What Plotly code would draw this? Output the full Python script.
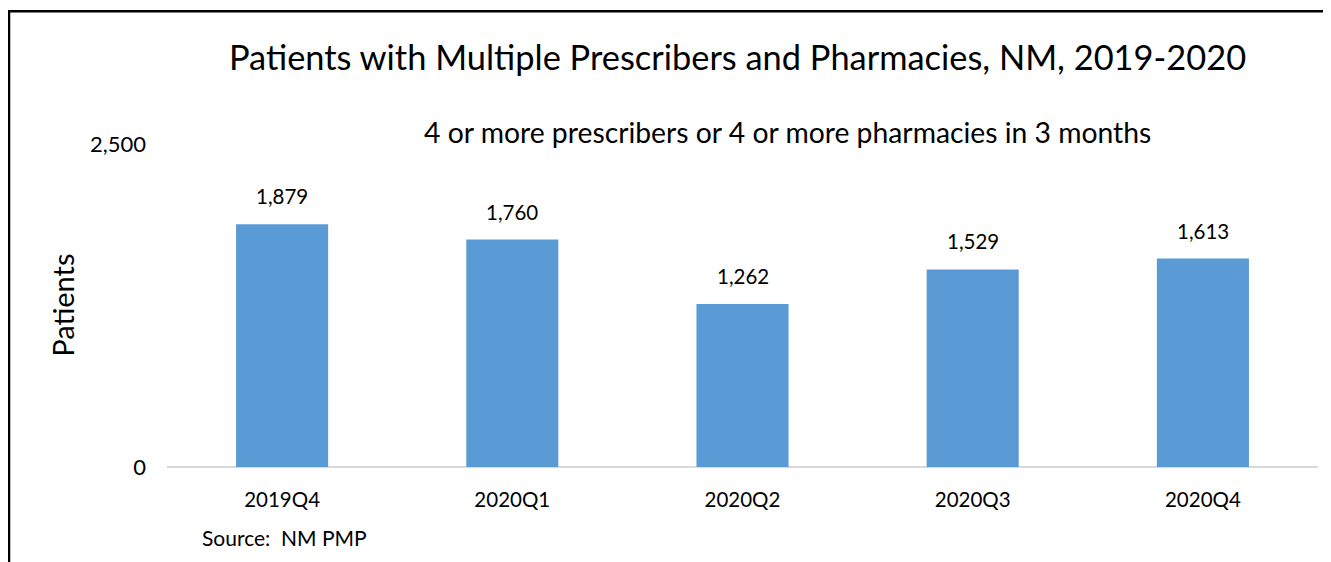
import plotly.graph_objects as go

quarters = ["2019Q4", "2020Q1", "2020Q2", "2020Q3", "2020Q4"]
patients = [1879, 1760, 1262, 1529, 1613]
y_ticks = [0, 2500]
y_tick_labels = ["0", "2,500"]

title_text = "Patients with Multiple Prescribers and Pharmacies, NM, 2019-2020"
subtitle_text = "4 or more prescribers or 4 or more pharmacies in 3 months"
source_text = "Source:  NM PMP"
y_title = "Patients"

FONT = "Lato"
W, H = 1331, 562
OFF = 8  # page body margin offset
# plot area in screen pixels
SX0, SX1, SY0, SY1 = 167, 1318, 144, 467.5
L = SX0 - OFF
R = W - (SX1 - OFF)
T = SY0 - OFF
B = H - (SY1 - OFF)
PW, PH = W - L - R, H - T - B


def px(x):
    return (x - OFF - L) / PW


def py(y):
    return (H - B - (y - OFF)) / PH


fig = go.Figure()
fig.add_trace(go.Bar(
    x=quarters, y=patients, width=0.4,
    marker=dict(color="#5b9bd5", line=dict(width=0)),
    hoverinfo="x+y",
))

for q, v in zip(quarters, patients):
    fig.add_annotation(x=q, y=v, xref="x", yref="y", text=f"{v:,}",
                       showarrow=False, yanchor="bottom", yshift=14,
                       font=dict(family=FONT, size=20.5, color="#000000"))

fig.add_annotation(x=px(737), y=py(56), xref="paper", yref="paper",
                   text=title_text, showarrow=False,
                   xanchor="center", yanchor="middle",
                   font=dict(family=FONT, size=34.4, color="#000000"))
fig.add_annotation(x=px(787), y=py(132), xref="paper", yref="paper",
                   text=subtitle_text, showarrow=False,
                   xanchor="center", yanchor="middle",
                   font=dict(family=FONT, size=28.3, color="#000000"))
fig.add_annotation(x=px(200), y=py(538), xref="paper", yref="paper",
                   text=source_text, showarrow=False,
                   xanchor="left", yanchor="middle",
                   font=dict(family=FONT, size=21, color="#000000"))
fig.add_annotation(x=px(63), y=py(306), xref="paper", yref="paper",
                   text=y_title, showarrow=False, textangle=-90,
                   xanchor="center", yanchor="middle",
                   font=dict(family=FONT, size=29, color="#000000"))

# outer frame lines (left and top)
fig.add_shape(type="line", xref="paper", yref="paper",
              x0=px(9), x1=px(9), y0=py(10), y1=py(H + 20),
              line=dict(color="#000000", width=2.5))
fig.add_shape(type="line", xref="paper", yref="paper",
              x0=px(8), x1=px(W + 20), y0=py(11), y1=py(11),
              line=dict(color="#000000", width=2.5))

fig.update_layout(
    width=W, height=H,
    margin=dict(l=L, r=R, t=T, b=B, pad=0),
    paper_bgcolor="#ffffff", plot_bgcolor="#ffffff",
    showlegend=False,
    bargap=0.6,
    font=dict(family=FONT, size=20, color="#000000"),
    xaxis=dict(showgrid=False, showline=False, ticks="",
               tickfont=dict(family=FONT, size=20.5, color="#000000"),
               ticklabelstandoff=18),
    yaxis=dict(range=[0, 2500], tickvals=y_ticks, ticktext=y_tick_labels,
               showgrid=True, gridcolor="#d9d9d9", gridwidth=1.5,
               zeroline=True, zerolinecolor="#d9d9d9", zerolinewidth=2,
               showline=False, ticks="",
               tickfont=dict(family=FONT, size=22, color="#000000"),
               ticklabelstandoff=20),
)

fig.write_html("out.html")
